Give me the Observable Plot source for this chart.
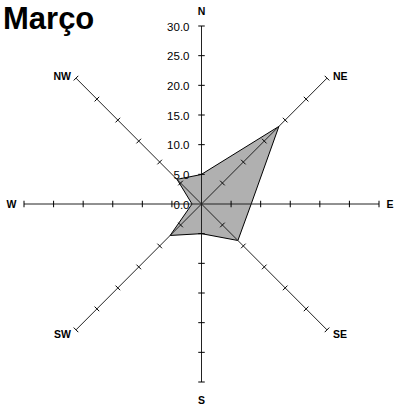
<!DOCTYPE html>
<html>
<head>
<meta charset="utf-8">
<script src="https://cdn.jsdelivr.net/npm/d3@7"></script>
<script src="https://cdn.jsdelivr.net/npm/@observablehq/plot@0.6"></script>
<style>
  body { margin: 0; background: #fff; font-family: Arial, "Liberation Sans", sans-serif; }
  #wrap { position: relative; width: 395px; height: 406px; }
  #title { position: absolute; left: 3px; top: 3px; font-size: 31px; line-height: 31px; font-weight: bold; color: #000; z-index: 1; }
  #wrap svg { position: absolute; left: 0; top: 0; }
</style>
</head>
<body>
<div id="wrap"><div id="title">Março</div></div>
<script>
// Wind rose for March: value per compass direction
const directions = ["N", "NE", "E", "SE", "S", "SW", "W", "NW"];
const values = [5.0, 18.5, 8.4, 8.7, 5.0, 7.5, 1.6, 5.8];

// Radial scale ticks and their printed labels
const tickValues = [0, 5, 10, 15, 20, 25, 30];
const tickLabels = ["0.0", "5.0", "10.0", "15.0", "20.0", "25.0", "30.0"];
const maxValue = 30;

// polar -> cartesian (data units), angle measured clockwise from north
const angle = i => i * Math.PI / 4;
const px = (r, i) => r * Math.sin(angle(i));
const py = (r, i) => r * Math.cos(angle(i));

const polygon = directions.map((d, i) => ({dir: d, x: px(values[i], i), y: py(values[i], i)}));

const spokes = directions.map((d, i) => ({dir: d, x1: 0, y1: 0, x2: px(maxValue, i), y2: py(maxValue, i)}));

// small cross ticks perpendicular to each spoke
const half = 0.55;
const ticks = [];
directions.forEach((d, i) => {
  const a = angle(i), ux = Math.cos(a), uy = -Math.sin(a);
  tickValues.filter(t => t > 0).forEach(t => {
    const cx = px(t, i), cy = py(t, i);
    ticks.push({x1: cx - half * ux, y1: cy - half * uy, x2: cx + half * ux, y2: cy + half * uy});
  });
});

const tickText = tickValues.map((v, i) => ({v, label: tickLabels[i]}));

// placement of each direction name just outside the end of its spoke
function labelStyle(i) {
  const s = Math.round(Math.sin(angle(i)) * 100) / 100;
  const c = Math.round(Math.cos(angle(i)) * 100) / 100;
  if (s === 0) return {textAnchor: "middle", dx: 0, dy: c > 0 ? -14 : 19};
  if (c === 0) return {textAnchor: s > 0 ? "start" : "end", dx: s > 0 ? 7.5 : -7.5, dy: 1};
  return {textAnchor: s > 0 ? "start" : "end", dx: s > 0 ? 6 : -5, dy: c > 0 ? -1.5 : 5};
}

const dirLabels = directions.map((d, i) => Plot.text([d], {
  x: px(maxValue, i), y: py(maxValue, i), text: t => t,
  fontWeight: "bold", fontSize: 10.5, fill: "#000", ...labelStyle(i)
}));

const chart = Plot.plot({
  width: 395,
  height: 406,
  marginLeft: 23.5,
  marginRight: 16.5,
  marginTop: 25.5,
  marginBottom: 24.5,
  x: {domain: [-maxValue, maxValue], axis: null},
  y: {domain: [-maxValue, maxValue], axis: null},
  style: {fontFamily: "Arial, 'Liberation Sans', sans-serif", background: "transparent"},
  marks: [
    Plot.line(polygon, {x: "x", y: "y", curve: "linear-closed", fill: "#b0b0b0", stroke: "#000", strokeWidth: 1}),
    Plot.link(spokes, {x1: "x1", y1: "y1", x2: "x2", y2: "y2", stroke: "#222", strokeWidth: 1}),
    Plot.link(ticks, {x1: "x1", y1: "y1", x2: "x2", y2: "y2", stroke: "#000", strokeWidth: 1}),
    Plot.text(tickText, {x: 0, y: "v", text: "label", textAnchor: "end", dx: -12, dy: 1, fontSize: 11.5, fill: "#000"}),
    ...dirLabels
  ]
});

document.getElementById("wrap").prepend(chart);
</script>
</body>
</html>
